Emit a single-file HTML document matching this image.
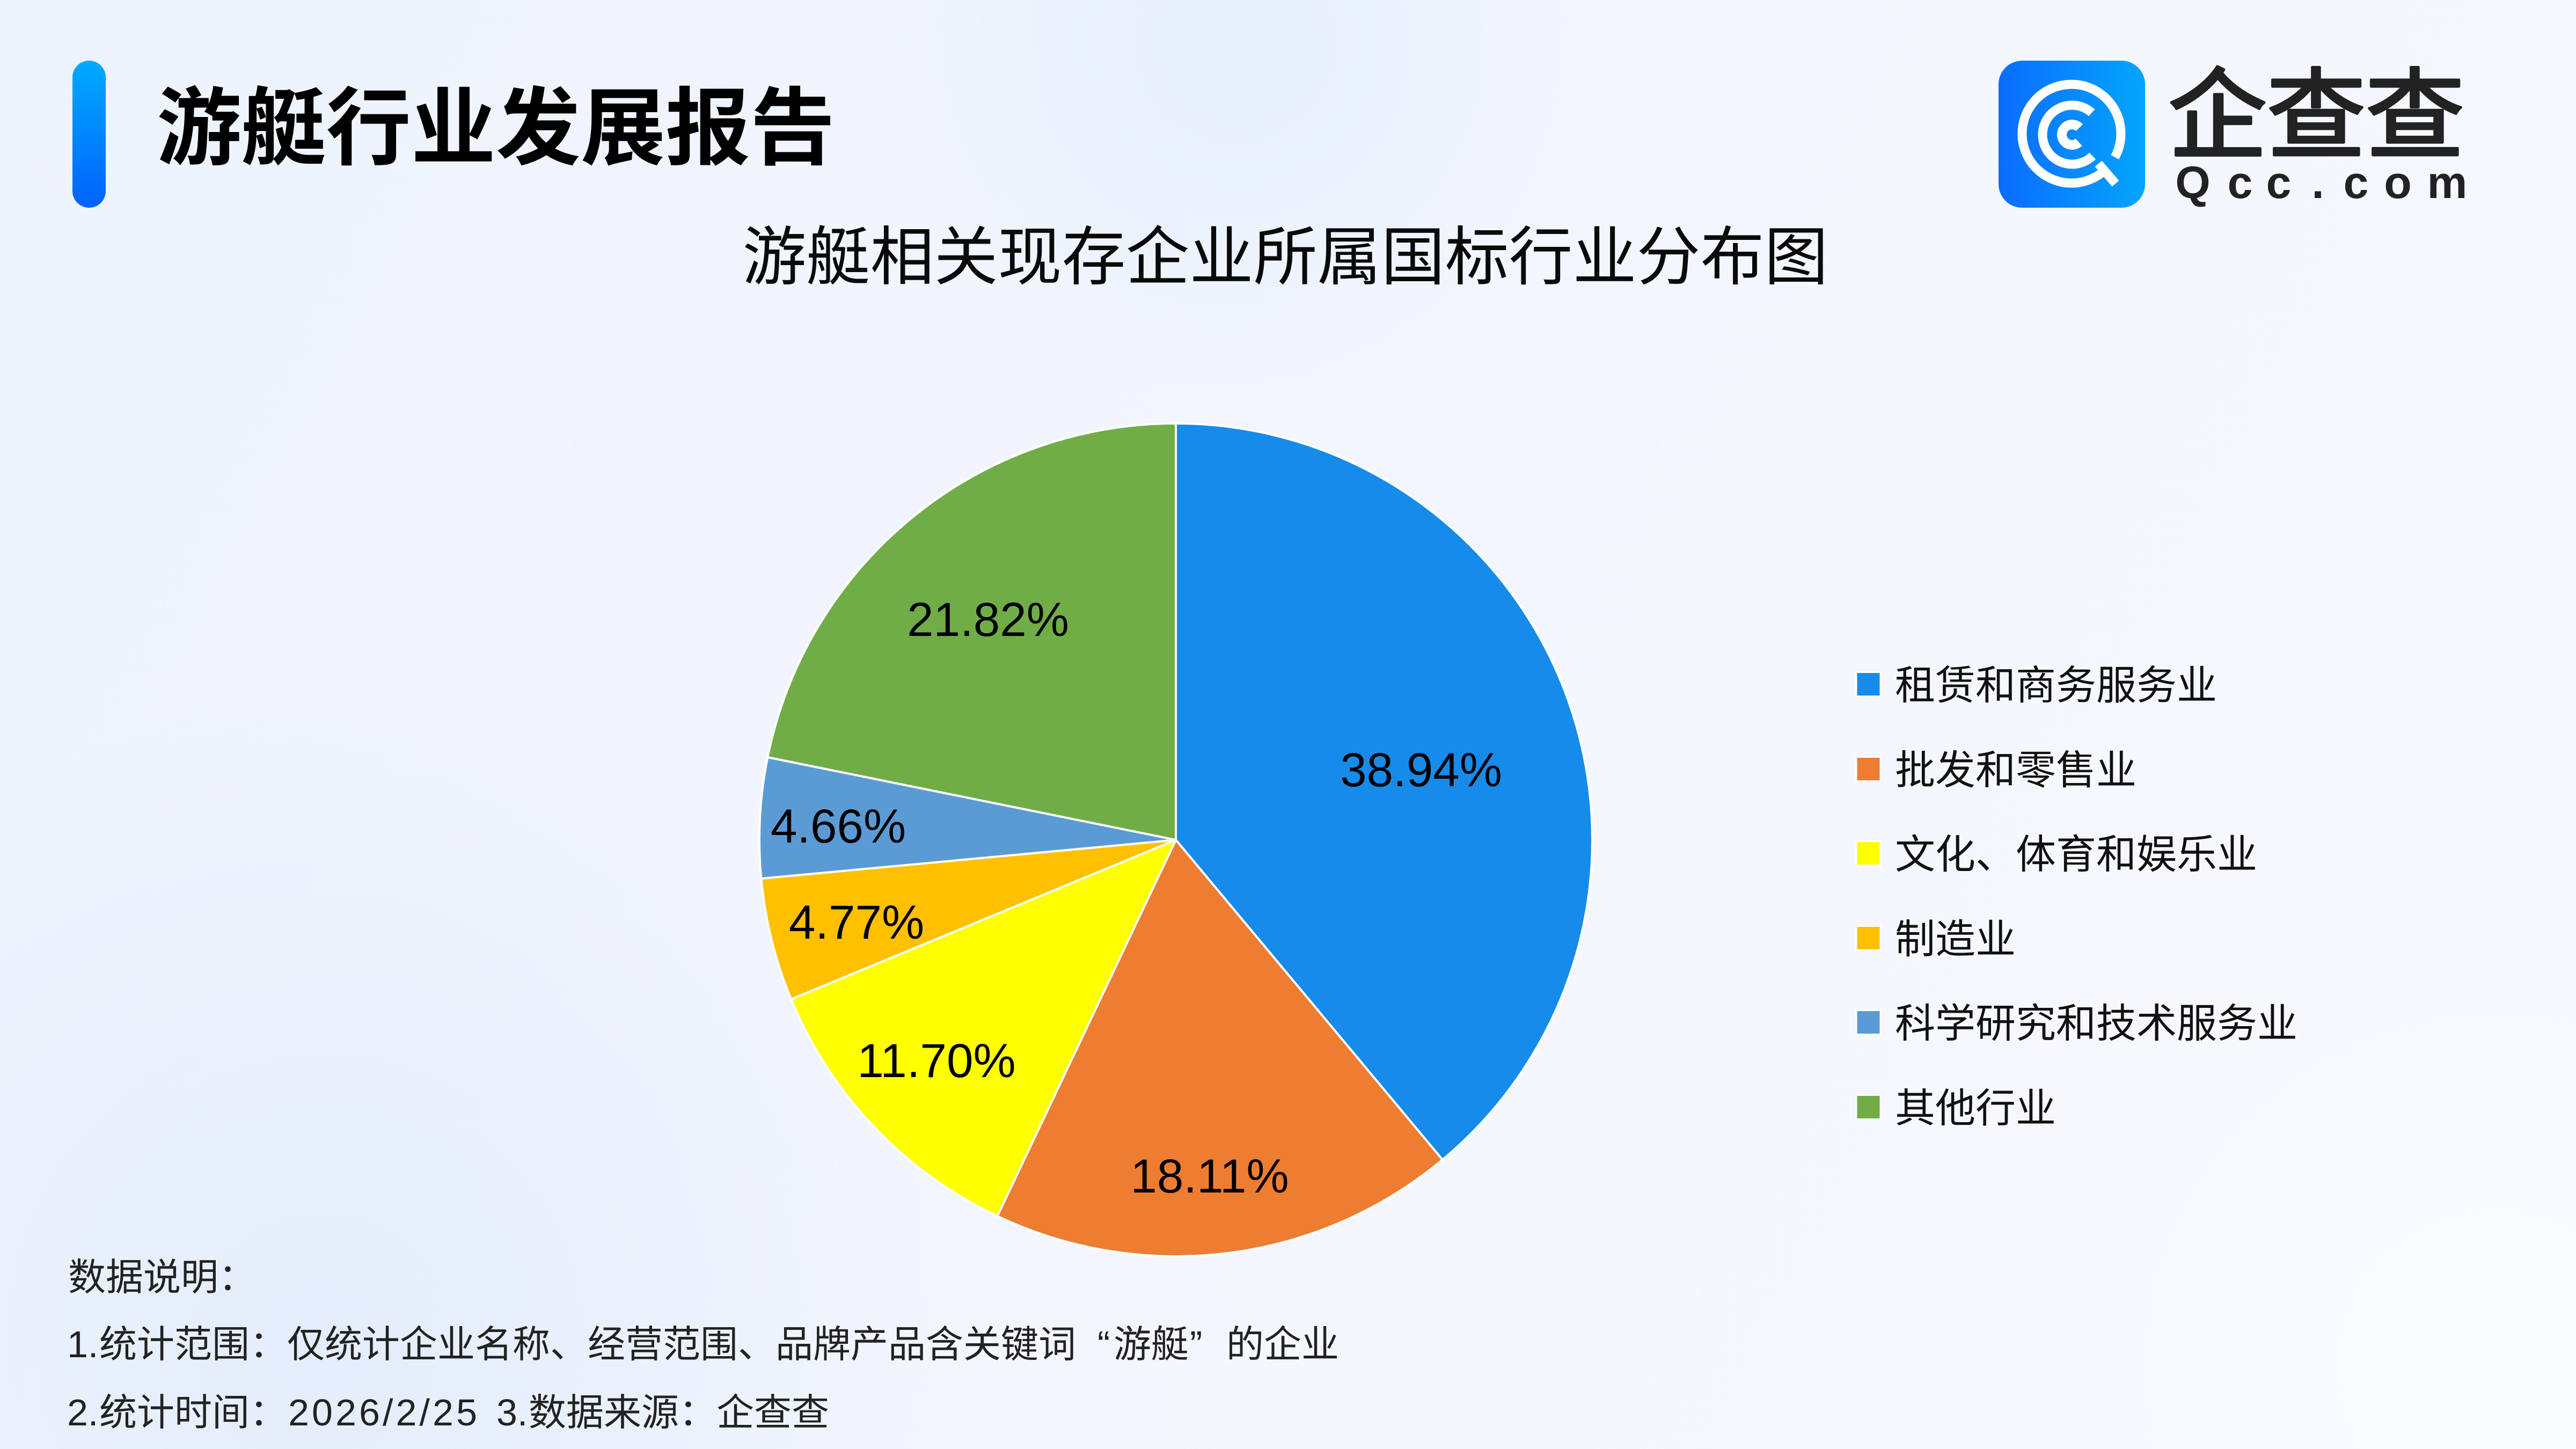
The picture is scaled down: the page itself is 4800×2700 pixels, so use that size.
<!DOCTYPE html>
<html>
<head>
<meta charset="utf-8">
<style>
html,body{margin:0;padding:0;background:#eff4fd;width:4800px;height:2700px;overflow:hidden;}
svg{display:block;}
.cjk{font-family:"Liberation Sans","Noto Sans CJK SC",sans-serif;}
</style>
</head>
<body>
<svg width="4800" height="2700" viewBox="0 0 4800 2700" xmlns="http://www.w3.org/2000/svg">
<defs>
  <clipPath id="frame"><rect x="0" y="0" width="4800" height="2700"/></clipPath>
  <linearGradient id="bg" x1="0" y1="0" x2="1" y2="0.3">
    <stop offset="0" stop-color="#edf3fd"/>
    <stop offset="0.55" stop-color="#f2f6fe"/>
    <stop offset="1" stop-color="#f6f8fe"/>
  </linearGradient>
  <radialGradient id="blobTop" gradientUnits="userSpaceOnUse" cx="2300" cy="80" r="650">
    <stop offset="0" stop-color="#e6effc" stop-opacity="1"/>
    <stop offset="1" stop-color="#e6effc" stop-opacity="0"/>
  </radialGradient>
  <radialGradient id="blobBL" gradientUnits="userSpaceOnUse" cx="600" cy="2500" r="1200">
    <stop offset="0" stop-color="#e3ecfb" stop-opacity="0.9"/>
    <stop offset="1" stop-color="#e3ecfb" stop-opacity="0"/>
  </radialGradient>
  <radialGradient id="blobBR" gradientUnits="userSpaceOnUse" cx="4650" cy="2550" r="800">
    <stop offset="0" stop-color="#fbfcff" stop-opacity="1"/>
    <stop offset="1" stop-color="#fbfcff" stop-opacity="0"/>
  </radialGradient>
  <linearGradient id="bar" x1="0" y1="0" x2="0" y2="1">
    <stop offset="0" stop-color="#00aaff"/>
    <stop offset="1" stop-color="#0062ff"/>
  </linearGradient>
  <linearGradient id="logo" x1="0" y1="0" x2="1" y2="0">
    <stop offset="0" stop-color="#0b6cff"/>
    <stop offset="1" stop-color="#04a5fc"/>
  </linearGradient>
</defs>

<g clip-path="url(#frame)">
<!-- background -->
<rect x="0" y="0" width="4800" height="2700" fill="url(#bg)"/>
<rect x="0" y="0" width="4800" height="2700" fill="url(#blobTop)"/>
<rect x="0" y="0" width="4800" height="2700" fill="url(#blobBL)"/>
<rect x="0" y="0" width="4800" height="2700" fill="url(#blobBR)"/>

<!-- title bar -->
<rect x="135" y="113" width="62" height="274" rx="31" ry="31" fill="url(#bar)"/>
<text x="292" y="294" class="cjk" font-size="158" font-weight="700" fill="#000">游艇行业发展报告</text>

<!-- logo -->
<g transform="translate(3724,113)">
  <rect x="0" y="0" width="273" height="274" rx="44" ry="44" fill="url(#logo)"/>
  <path d="M197.6,204.4 A92,92 0 1,1 216.8,180.0" fill="none" stroke="#fff" stroke-width="17"/>
  <line x1="186" y1="192" x2="218" y2="229" stroke="#fff" stroke-width="17"/>
  <path d="M175.2,177.6 A55,55 0 1,1 173.8,97.1" fill="none" stroke="#fff" stroke-width="17"/>
  <path d="M149.7,152.1 A19,19 0 1,1 150.7,124.8" fill="none" stroke="#fff" stroke-width="18"/>
</g>
<text x="4040" y="280" class="cjk" font-size="184" font-weight="400" fill="#222" stroke="#222" stroke-width="5" stroke-linejoin="round">企查查</text>
<g font-family="Liberation Sans, sans-serif" font-size="84" font-weight="700" fill="#222" text-anchor="middle">
  <text x="4086" y="369">Q</text>
  <text x="4174" y="369">c</text>
  <text x="4246" y="369">c</text>
  <text x="4319" y="369">.</text>
  <text x="4390" y="369">c</text>
  <text x="4468" y="369">o</text>
  <text x="4560" y="369">m</text>
</g>

<!-- subtitle -->
<text x="2395" y="520" class="cjk" font-size="119" fill="#0a0a0a" text-anchor="middle">游艇相关现存企业所属国标行业分布图</text>

<!-- pie -->
<g stroke="#ffffff" stroke-width="4" stroke-linejoin="round">
  <path d="M2191,1565 L2191,789 A776,776 0 0,1 2687.9,2161.0 Z" fill="#168bea"/>
  <path d="M2191,1565 L2687.9,2161.0 A776,776 0 0,1 1858.4,2266.1 Z" fill="#ed7d31"/>
  <path d="M2191,1565 L1858.4,2266.1 A776,776 0 0,1 1474.1,1862.0 Z" fill="#ffff00"/>
  <path d="M2191,1565 L1474.1,1862.0 A776,776 0 0,1 1418.4,1637.1 Z" fill="#ffc000"/>
  <path d="M2191,1565 L1418.4,1637.1 A776,776 0 0,1 1430.4,1411.0 Z" fill="#5b9bd5"/>
  <path d="M2191,1565 L1430.4,1411.0 A776,776 0 0,1 2191,789 Z" fill="#70ad47"/>
</g>
<g font-family="Liberation Sans, sans-serif" font-size="89" fill="#000" text-anchor="middle">
  <text x="2648" y="1465">38.94%</text>
  <text x="2254" y="2222">18.11%</text>
  <text x="1745" y="2007">11.70%</text>
  <text x="1596" y="1749">4.77%</text>
  <text x="1562" y="1570">4.66%</text>
  <text x="1841" y="1185">21.82%</text>
</g>

<!-- legend -->
<g stroke="#ffffff" stroke-width="3">
  <rect x="3459" y="1252.5" width="45" height="45" fill="#168bea"/>
  <rect x="3459" y="1410.5" width="45" height="45" fill="#ed7d31"/>
  <rect x="3459" y="1567.5" width="45" height="45" fill="#ffff00"/>
  <rect x="3459" y="1725.5" width="45" height="45" fill="#ffc000"/>
  <rect x="3459" y="1882.5" width="45" height="45" fill="#5b9bd5"/>
  <rect x="3459" y="2040.5" width="45" height="45" fill="#70ad47"/>
</g>
<g class="cjk" font-size="75" fill="#111">
  <text x="3531" y="1303">租赁和商务服务业</text>
  <text x="3531" y="1461">批发和零售业</text>
  <text x="3531" y="1618">文化、体育和娱乐业</text>
  <text x="3531" y="1776">制造业</text>
  <text x="3531" y="1933">科学研究和技术服务业</text>
  <text x="3531" y="2091">其他行业</text>
</g>

<!-- notes -->
<g class="cjk" font-size="70" fill="#222">
  <text x="127" y="2404">数据说明：</text>
  <text y="2529"><tspan x="125">1.</tspan><tspan x="185">统计范围：仅统计企业名称、经营范围、品牌产品含关键词</tspan><tspan x="2045">“</tspan><tspan x="2075">游艇</tspan><tspan x="2217">”</tspan><tspan x="2285">的企业</tspan></text>
  <text y="2656"><tspan x="125">2.</tspan><tspan x="185">统计时间：</tspan></text>
  <text x="537" y="2656" textLength="352" lengthAdjust="spacing">2026/2/25</text>
  <text y="2656"><tspan x="925">3.</tspan><tspan x="985">数据来源：企查查</tspan></text>
</g>
</g>
</svg>
</body>
</html>
